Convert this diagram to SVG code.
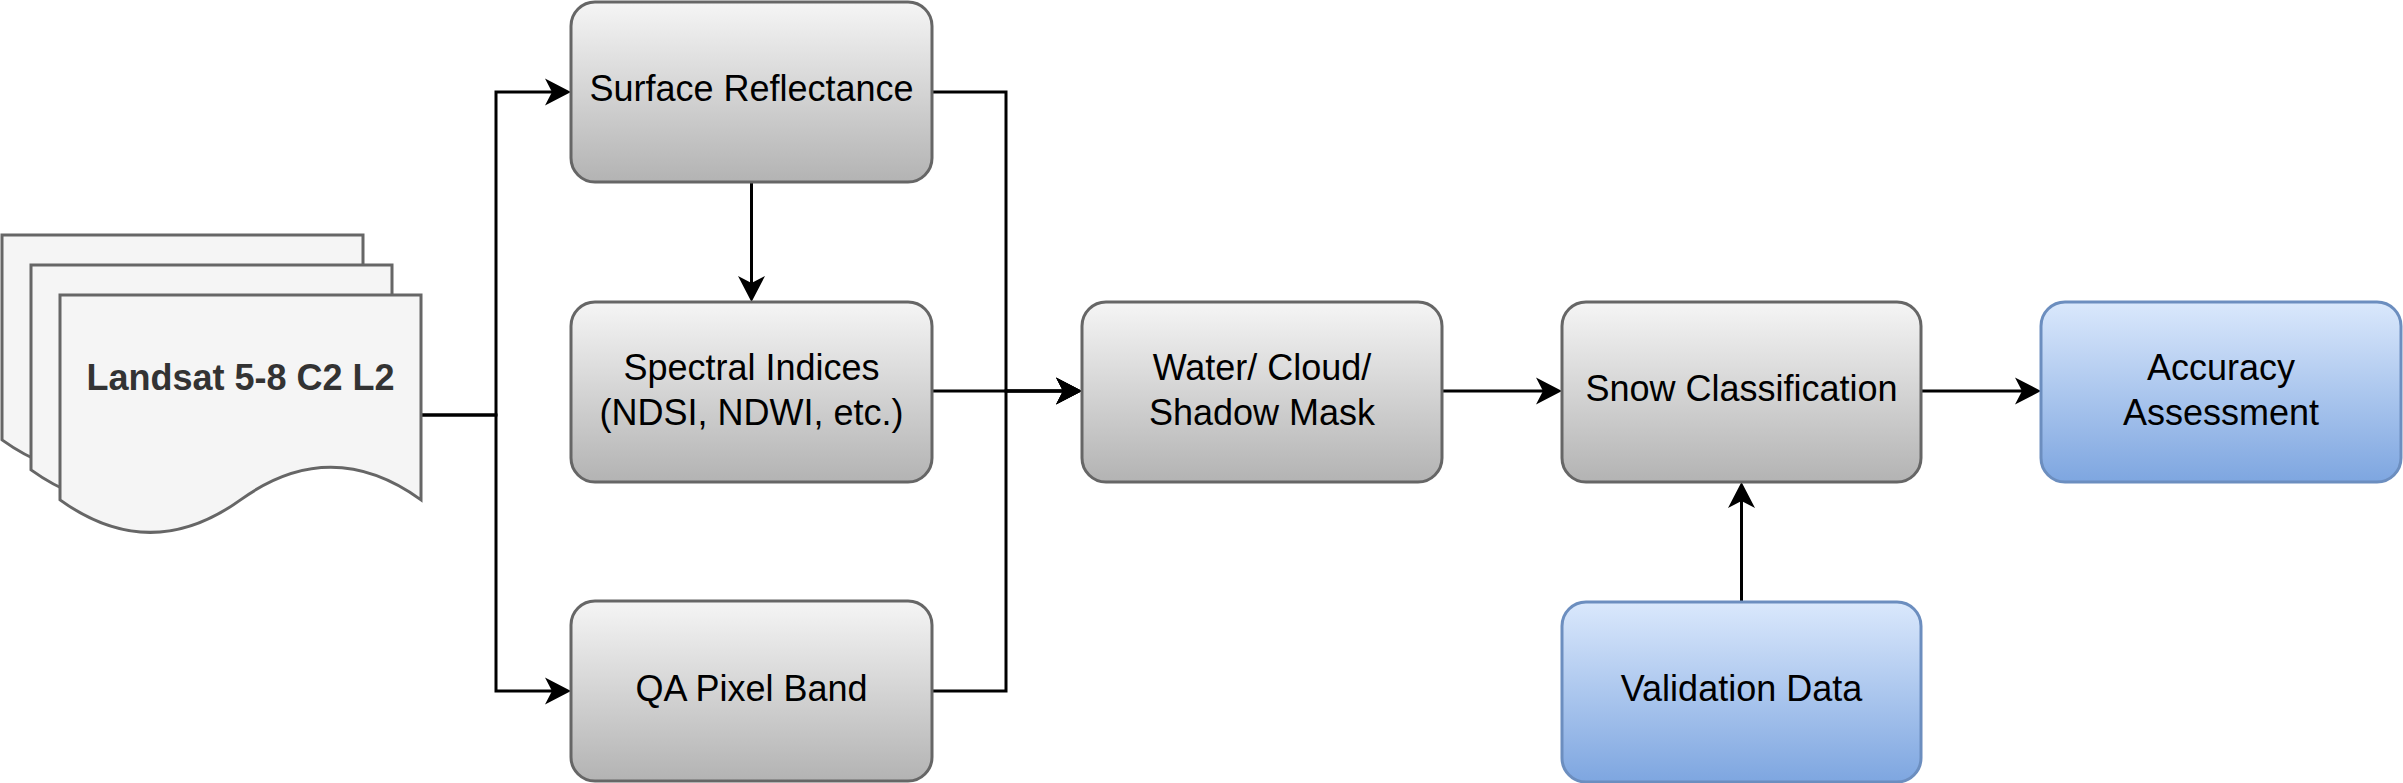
<svg xmlns="http://www.w3.org/2000/svg" xmlns:xlink="http://www.w3.org/1999/xlink" width="2403" height="783" viewBox="0 0 2403 783">
  <style>
    .gbox { fill: url(#gGray); stroke: #666666; stroke-width: 3; }
    .bbox { fill: url(#gBlue); stroke: #6c8ebf; stroke-width: 3; }
    .doc { fill: #f5f5f5; stroke: #666666; stroke-width: 3; }
    .lbl { font-family: "Liberation Sans", Arial, sans-serif; font-size: 36px; fill: #000000; text-anchor: middle; }
    .title { font-family: "Liberation Sans", Arial, sans-serif; font-size: 36px; font-weight: bold; fill: #333333; text-anchor: middle; }
    .conn { fill: none; stroke: #000000; stroke-width: 3; marker-end: url(#arr); }
  </style>
  <defs>
    <linearGradient id="gGray" x1="0" y1="0" x2="0" y2="1">
      <stop offset="0" stop-color="#f5f5f5"/>
      <stop offset="1" stop-color="#b3b3b3"/>
    </linearGradient>
    <linearGradient id="gBlue" x1="0" y1="0" x2="0" y2="1">
      <stop offset="0" stop-color="#dae8fc"/>
      <stop offset="1" stop-color="#7ea6e0"/>
    </linearGradient>
    <marker id="arr" markerUnits="userSpaceOnUse" markerWidth="28" markerHeight="28" refX="8" refY="13.5" orient="auto" overflow="visible">
      <path d="M0,0 L26,13.5 L0,27 L7,13.5 Z" fill="#000000" stroke="none"/>
    </marker>
    <path id="docShape" d="M0,0 H361 V204.85 Q270.75,139.8 180.5,204.85 Q90.25,269.9 0,204.85 Z"/>
  </defs>

  <g id="connectors">
    <path class="conn" d="M422,415 H496 V92 H553"/>
    <path class="conn" d="M422,415 H496 V691 H553"/>
    <path class="conn" d="M751.5,182 V284"/>
    <path class="conn" d="M932,92 H1006 V391 H1064"/>
    <path class="conn" d="M932,391 H1064"/>
    <path class="conn" d="M932,691 H1006 V391 H1064"/>
    <path class="conn" d="M1442,391 H1544"/>
    <path class="conn" d="M1741.5,602 V500"/>
    <path class="conn" d="M1921,391 H2023"/>
  </g>

  <g id="landsat">
    <use xlink:href="#docShape" href="#docShape" class="doc" transform="translate(2,235)"/>
    <use xlink:href="#docShape" href="#docShape" class="doc" transform="translate(31,265)"/>
    <use xlink:href="#docShape" href="#docShape" class="doc" transform="translate(60,295)"/>
    <text class="title" x="240.5" y="390">Landsat 5-8 C2 L2</text>
  </g>

  <g id="surface-reflectance">
    <rect class="gbox" x="571" y="2" width="361" height="180" rx="24" ry="24"/>
    <text class="lbl" x="751.5" y="101">Surface Reflectance</text>
  </g>

  <g id="spectral-indices">
    <rect class="gbox" x="571" y="302" width="361" height="180" rx="24" ry="24"/>
    <text class="lbl" x="751.5" y="380">Spectral Indices</text>
    <text class="lbl" x="751.5" y="425">(NDSI, NDWI, etc.)</text>
  </g>

  <g id="qa-pixel-band">
    <rect class="gbox" x="571" y="601" width="361" height="180" rx="24" ry="24"/>
    <text class="lbl" x="751.5" y="701">QA Pixel Band</text>
  </g>

  <g id="mask">
    <rect class="gbox" x="1082" y="302" width="360" height="180" rx="24" ry="24"/>
    <text class="lbl" x="1262" y="380">Water/ Cloud/</text>
    <text class="lbl" x="1262" y="425">Shadow Mask</text>
  </g>

  <g id="snow-classification">
    <rect class="gbox" x="1562" y="302" width="359" height="180" rx="24" ry="24"/>
    <text class="lbl" x="1741.5" y="401">Snow Classification</text>
  </g>

  <g id="validation-data">
    <rect class="bbox" x="1562" y="602" width="359" height="180" rx="24" ry="24"/>
    <text class="lbl" x="1741.5" y="701">Validation Data</text>
  </g>

  <g id="accuracy-assessment">
    <rect class="bbox" x="2041" y="302" width="360" height="180" rx="24" ry="24"/>
    <text class="lbl" x="2221" y="380">Accuracy</text>
    <text class="lbl" x="2221" y="425">Assessment</text>
  </g>
</svg>
